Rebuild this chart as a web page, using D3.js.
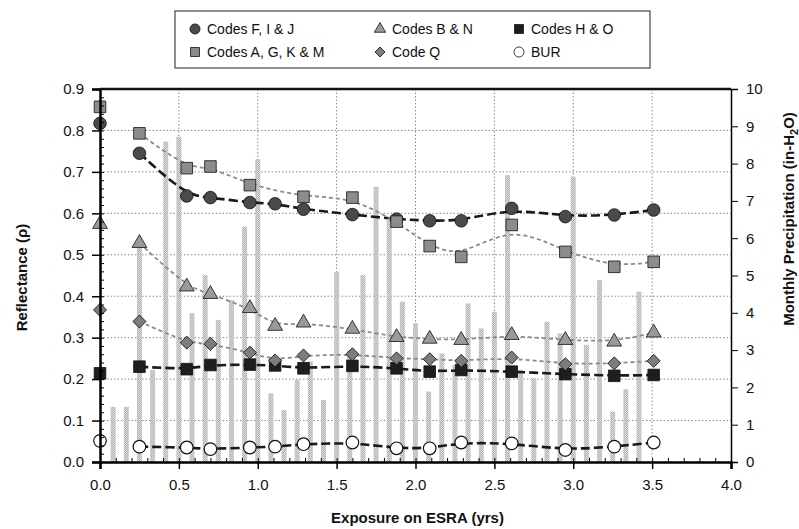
<!DOCTYPE html>
<html>
<head>
<meta charset="utf-8">
<script src="https://cdn.jsdelivr.net/npm/d3@7"></script>
<style>
  body { margin: 0; background: #fff; }
  text { font-family: "Liberation Sans", Arial, sans-serif; fill: #111; }
</style>
</head>
<body>
<div id="chart"></div>
<script>
// exposure times (yrs) where reflectance was measured
const exposure = [0, 0.25, 0.55, 0.7, 0.95, 1.11, 1.29, 1.6, 1.88, 2.09, 2.29, 2.61, 2.95, 3.26, 3.51];

const codesFIJ  = [0.817, 0.745, 0.642, 0.638, 0.626, 0.623, 0.610, 0.597, 0.586, 0.582, 0.582, 0.612, 0.592, 0.596, 0.608];
const codesAGKM = [0.857, 0.793, 0.709, 0.713, 0.668, null, 0.640, 0.638, 0.580, 0.521, 0.495, 0.572, 0.507, 0.471, 0.483];
const codesBN   = [0.574, 0.528, 0.423, 0.405, 0.371, 0.328, 0.336, 0.321, 0.301, 0.297, 0.294, 0.306, 0.294, 0.290, 0.312];
const codeQ     = [0.367, 0.339, 0.288, 0.285, 0.264, 0.245, 0.257, 0.260, 0.250, 0.248, 0.244, 0.252, 0.236, 0.238, 0.244];
const codesHO   = [0.214, 0.230, 0.224, 0.234, 0.235, 0.233, 0.226, 0.232, 0.226, 0.218, 0.222, 0.218, 0.212, 0.208, 0.210];
const bur       = [0.051, 0.037, 0.035, 0.031, 0.035, 0.037, 0.043, 0.047, 0.033, 0.033, 0.047, 0.045, 0.029, 0.037, 0.047];

// monthly precipitation (in-H2O), one bar per month starting at month 1
const precipMonth = d3.range(1, 42);
const precip = [1.48, 1.48, 5.8, 2.47, 8.59, 8.72, 3.99, 5.01, 3.81, 4.34, 6.31, 8.12, 1.84, 1.39, 2.2, 2.7,
                1.66, 5.1, 3.0, 5.01, 7.38, 6.49, 4.3, 3.72, 1.89, 2.91, 2.6, 4.25, 3.58, 4.03, 7.69,
                2.47, 2.25, 3.76, 3.45, 7.65, 3.14, 4.88, 1.35, 1.95, 4.57];

const xTicks = [0, 0.5, 1, 1.5, 2, 2.5, 3, 3.5, 4];
const yTicks = d3.range(0, 0.91, 0.1);
const y2Ticks = d3.range(0, 11, 1);

const seriesList = [
    {name: 'Codes F, I & J',     values: codesFIJ,  shape: 'circle',   fill: '#4a4a4a', line: 'heavy'},
    {name: 'Codes B & N',        values: codesBN,   shape: 'triangle', fill: '#9a9a9a', line: 'light'},
    {name: 'Codes H & O',        values: codesHO,   shape: 'square',   fill: '#1e1e1e', line: 'heavy'},
    {name: 'Codes A, G, K & M',  values: codesAGKM, shape: 'square',   fill: '#8c8c8c', line: 'light'},
    {name: 'Code Q',             values: codeQ,     shape: 'diamond',  fill: '#7d7d7d', line: 'light'},
    {name: 'BUR',                values: bur,       shape: 'circle',   fill: '#ffffff', line: 'heavy'}
];

const W = 799, H = 529;
const margin = {top: 89, right: 68, bottom: 67, left: 100};
const width = W - margin.left - margin.right;
const height = H - margin.top - margin.bottom;

const svg = d3.select('#chart').append('svg')
    .attr('width', W)
    .attr('height', H);

const chart = svg.append('g')
    .attr('transform', `translate(${margin.left}, ${margin.top})`);

const xScale = d3.scaleLinear().domain([0, 4]).range([0, width]);
const yScale = d3.scaleLinear().domain([0, 0.9]).range([height, 0]);
const y2Scale = d3.scaleLinear().domain([0, 10]).range([height, 0]);

// dotted grid
chart.append('g').selectAll('line.h')
    .data(yTicks.slice(1))
    .join('line')
        .attr('x1', 0).attr('x2', width)
        .attr('y1', d => yScale(d)).attr('y2', d => yScale(d))
        .attr('stroke', '#8a8a8a').attr('stroke-width', 1)
        .attr('stroke-dasharray', '1.5,2');
chart.append('g').selectAll('line.v')
    .data(xTicks.slice(1, -1))
    .join('line')
        .attr('x1', d => xScale(d)).attr('x2', d => xScale(d))
        .attr('y1', 0).attr('y2', height)
        .attr('stroke', '#8a8a8a').attr('stroke-width', 1)
        .attr('stroke-dasharray', '1.5,2');

// precipitation bars (secondary axis)
const defs = svg.append('defs');
const pat = defs.append('pattern')
    .attr('id', 'dots')
    .attr('width', 2).attr('height', 2)
    .attr('patternUnits', 'userSpaceOnUse');
pat.append('rect').attr('width', 2).attr('height', 2).attr('fill', '#dadada');
pat.append('rect').attr('width', 1).attr('height', 1).attr('fill', '#b4b4b4');
pat.append('rect').attr('x', 1).attr('y', 1).attr('width', 1).attr('height', 1).attr('fill', '#b4b4b4');

const barW = 5;
chart.append('g').selectAll('rect')
    .data(precip)
    .join('rect')
        .attr('x', (d, i) => xScale(precipMonth[i] / 12) - barW / 2)
        .attr('y', d => y2Scale(d))
        .attr('width', barW)
        .attr('height', d => height - y2Scale(d))
        .attr('fill', 'url(#dots)');

// fitted trend lines (start at first exposure, 0.25 yr)
const line = d3.line()
    .defined(d => d.v != null)
    .x(d => xScale(d.x))
    .y(d => yScale(d.v))
    .curve(d3.curveBasis);

seriesList.forEach(s => {
    const pts = exposure.map((x, i) => ({x: x, v: s.values[i]})).slice(1).filter(d => d.v != null);
    chart.append('path')
        .datum(pts)
        .attr('fill', 'none')
        .attr('stroke', s.line == 'heavy' ? '#1a1a1a' : '#8a8a8a')
        .attr('stroke-width', s.line == 'heavy' ? 2.6 : 1.8)
        .attr('stroke-dasharray', s.line == 'heavy' ? '9,4' : '4,3')
        .attr('d', line);
});

// markers (diamond = square turned 45 degrees)
const symbolOf = {
    circle: d3.symbol(d3.symbolCircle, 125),
    square: d3.symbol(d3.symbolSquare, 135),
    triangle: d3.symbol(d3.symbolTriangle, 95),
    diamond: d3.symbol(d3.symbolSquare, 85)
};

seriesList.forEach(s => {
    chart.append('g').selectAll('path')
        .data(exposure.map((x, i) => ({x: x, v: s.values[i]})).filter(d => d.v != null))
        .join('path')
            .attr('transform', d => `translate(${xScale(d.x)}, ${yScale(d.v)})` + (s.shape == 'diamond' ? ' rotate(45)' : ''))
            .attr('d', symbolOf[s.shape])
            .attr('fill', s.fill)
            .attr('stroke', '#111')
            .attr('stroke-width', s.fill == '#ffffff' ? 1.2 : 0.8);
});

// axes
const xAxis = d3.axisBottom(xScale).tickValues(xTicks).tickFormat(d3.format('.1f')).tickSize(7).tickPadding(10);
const xAxisGroup = chart.append('g').attr('transform', `translate(0, ${height})`).call(xAxis);
xAxisGroup.select('.domain').attr('stroke-width', 2.5);
xAxisGroup.selectAll('.tick line').attr('stroke-width', 1.5);

chart.append('g').attr('transform', `translate(0, ${height})`)
    .call(d3.axisTop(xScale).tickValues(d3.range(0.1, 4, 0.1)).tickSize(4).tickFormat(''))
    .select('.domain').remove();

const yAxis = d3.axisLeft(yScale).tickValues(yTicks).tickFormat(d3.format('.1f')).tickSize(8).tickPadding(8);
const yAxisGroup = chart.append('g').call(yAxis);
yAxisGroup.select('.domain').attr('stroke-width', 2.5);
yAxisGroup.selectAll('.tick line').attr('stroke-width', 1.5);

chart.append('g')
    .call(d3.axisRight(yScale).tickValues(d3.range(0.02, 0.9, 0.02)).tickSize(4).tickFormat(''))
    .select('.domain').remove();

const y2Axis = d3.axisRight(y2Scale).tickValues(y2Ticks).tickSize(7).tickPadding(8);
const y2AxisGroup = chart.append('g').attr('transform', `translate(${width}, 0)`).call(y2Axis);
y2AxisGroup.select('.domain').attr('stroke-width', 1.5);

// top border
chart.append('line')
    .attr('x1', 0).attr('x2', width)
    .attr('y1', 0).attr('y2', 0)
    .attr('stroke', '#111').attr('stroke-width', 2.5);

chart.selectAll('.tick text').style('font-size', '15px').style('font-family', '"Liberation Sans", Arial, sans-serif');

// axis titles
svg.append('text')
    .attr('x', margin.left + width / 2 + 2)
    .attr('y', 523)
    .attr('text-anchor', 'middle')
    .style('font-size', '15px').style('font-weight', 'bold')
    .text('Exposure on ESRA (yrs)');

svg.append('text')
    .attr('transform', `translate(27, ${margin.top + height / 2 + 2}) rotate(-90)`)
    .attr('text-anchor', 'middle')
    .style('font-size', '15px').style('font-weight', 'bold')
    .text('Reflectance (\u03C1)');

const rt = svg.append('text')
    .attr('transform', `translate(794, 219) rotate(-90)`)
    .attr('text-anchor', 'middle')
    .style('font-size', '15px').style('font-weight', 'bold');
rt.append('tspan').text('Monthly Precipitation (in-H');
rt.append('tspan').attr('dy', 4).style('font-size', '11px').text('2');
rt.append('tspan').attr('dy', -4).text('O)');

// legend
const legend = svg.append('g');
legend.append('rect')
    .attr('x', 175).attr('y', 11)
    .attr('width', 475).attr('height', 57)
    .attr('fill', '#fff').attr('stroke', '#444').attr('stroke-width', 1.2);

const legX = [195, 380, 519];
const legY = [29, 52];
const legSym = {
    circle: d3.symbol(d3.symbolCircle, 80),
    square: d3.symbol(d3.symbolSquare, 80),
    triangle: d3.symbol(d3.symbolTriangle, 55),
    diamond: d3.symbol(d3.symbolSquare, 50)
};
seriesList.forEach((s, i) => {
    const gx = legX[i % 3], gy = legY[Math.floor(i / 3)];
    legend.append('path')
        .attr('transform', `translate(${gx}, ${gy})` + (s.shape == 'diamond' ? ' rotate(45)' : ''))
        .attr('d', legSym[s.shape])
        .attr('fill', s.fill)
        .attr('stroke', '#111').attr('stroke-width', 0.8);
    legend.append('text')
        .attr('x', gx + 12).attr('y', gy + 5)
        .style('font-size', '14px')
        .text(s.name);
});
</script>
</body>
</html>
